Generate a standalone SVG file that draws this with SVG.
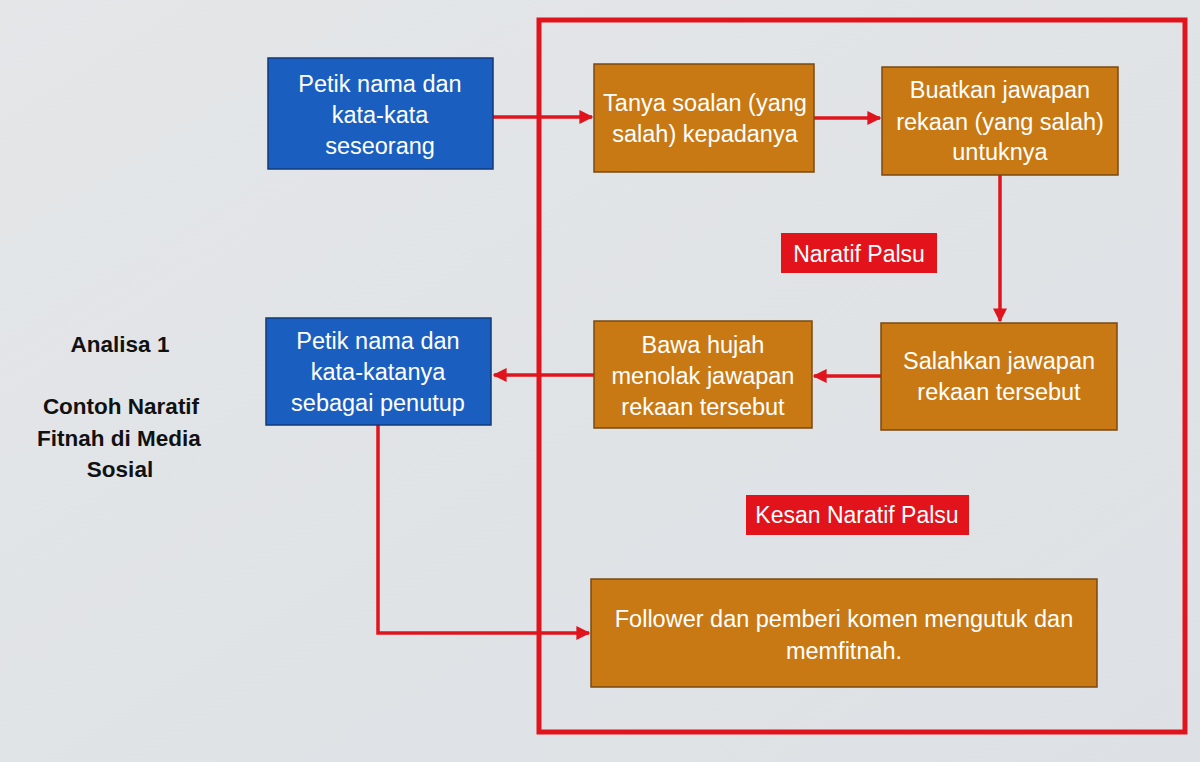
<svg xmlns="http://www.w3.org/2000/svg" width="1200" height="762" viewBox="0 0 1200 762">
<defs>
<linearGradient id="bg" x1="0" y1="0" x2="1" y2="1">
<stop offset="0" stop-color="#e4e6e8"/>
<stop offset="1" stop-color="#dde1e5"/>
</linearGradient>
<marker id="ah" viewBox="0 0 10 10" refX="9" refY="5" markerWidth="4" markerHeight="4" orient="auto" markerUnits="strokeWidth">
<path d="M0,0 L10,5 L0,10 z" fill="#e0141c"/>
</marker>
<style>
.blue{fill:#1a5fc0;stroke:#123a78;stroke-width:1.5}
.orange{fill:#c97913;stroke:#7a4a12;stroke-width:1.5}
.tag{fill:#e3131b}
.t{font-family:"Liberation Sans",Arial,sans-serif;font-size:23.5px;fill:#ffffff;text-anchor:middle}
.tg{font-family:"Liberation Sans",Arial,sans-serif;font-size:23px;fill:#ffffff;text-anchor:middle}
.side{font-family:"Liberation Sans",Arial,sans-serif;font-size:22.5px;font-weight:bold;fill:#111111;text-anchor:middle}
.con{fill:none;stroke:#e0141c;stroke-width:3.5}
</style>
</defs>
<rect width="1200" height="762" fill="url(#bg)"/>
<rect x="539" y="20" width="646" height="712" fill="none" stroke="#e0141c" stroke-width="5"/>
<g id="side-text">
<text class="side" x="120" y="352">Analisa 1</text>
<text class="side" x="121" y="414">Contoh Naratif</text>
<text class="side" x="119" y="446">Fitnah di Media</text>
<text class="side" x="120" y="477">Sosial</text>
</g>
<g id="connectors">
<line class="con" x1="493" y1="117" x2="592" y2="117" marker-end="url(#ah)"/>
<line class="con" x1="814" y1="118" x2="880" y2="118" marker-end="url(#ah)"/>
<line class="con" x1="1000" y1="175" x2="1000" y2="321" marker-end="url(#ah)"/>
<line class="con" x1="881" y1="376" x2="814" y2="376" marker-end="url(#ah)"/>
<line class="con" x1="594" y1="375" x2="494" y2="375" marker-end="url(#ah)"/>
<polyline class="con" points="378,425 378,633 589,633" marker-end="url(#ah)"/>
</g>
<g id="n1">
<rect class="blue" x="268" y="58" width="225" height="111"/>
<text class="t" x="380" y="92">Petik nama dan</text>
<text class="t" x="380" y="123">kata-kata</text>
<text class="t" x="380" y="154">seseorang</text>
</g>
<g id="n2">
<rect class="orange" x="594" y="64" width="220" height="108"/>
<text class="t" x="705" y="111">Tanya soalan (yang</text>
<text class="t" x="705" y="142">salah) kepadanya</text>
</g>
<g id="n3">
<rect class="orange" x="882" y="67" width="236" height="108"/>
<text class="t" x="1000" y="98">Buatkan jawapan</text>
<text class="t" x="1000" y="130">rekaan (yang salah)</text>
<text class="t" x="1000" y="160">untuknya</text>
</g>
<g id="tag1">
<rect class="tag" x="781" y="233" width="156" height="40"/>
<text class="tg" x="859" y="262">Naratif Palsu</text>
</g>
<g id="n4">
<rect class="orange" x="881" y="323" width="236" height="107"/>
<text class="t" x="999" y="369">Salahkan jawapan</text>
<text class="t" x="999" y="400">rekaan tersebut</text>
</g>
<g id="n5">
<rect class="orange" x="594" y="321" width="218" height="107"/>
<text class="t" x="703" y="353">Bawa hujah</text>
<text class="t" x="703" y="384">menolak jawapan</text>
<text class="t" x="703" y="415">rekaan tersebut</text>
</g>
<g id="n6">
<rect class="blue" x="266" y="318" width="225" height="107"/>
<text class="t" x="378" y="349">Petik nama dan</text>
<text class="t" x="378" y="380">kata-katanya</text>
<text class="t" x="378" y="411">sebagai penutup</text>
</g>
<g id="tag2">
<rect class="tag" x="746" y="495" width="223" height="40"/>
<text class="tg" x="857" y="523">Kesan Naratif Palsu</text>
</g>
<g id="n7">
<rect class="orange" x="591" y="579" width="506" height="108"/>
<text class="t" x="844" y="627">Follower dan pemberi komen mengutuk dan</text>
<text class="t" x="844" y="659">memfitnah.</text>
</g>
</svg>
